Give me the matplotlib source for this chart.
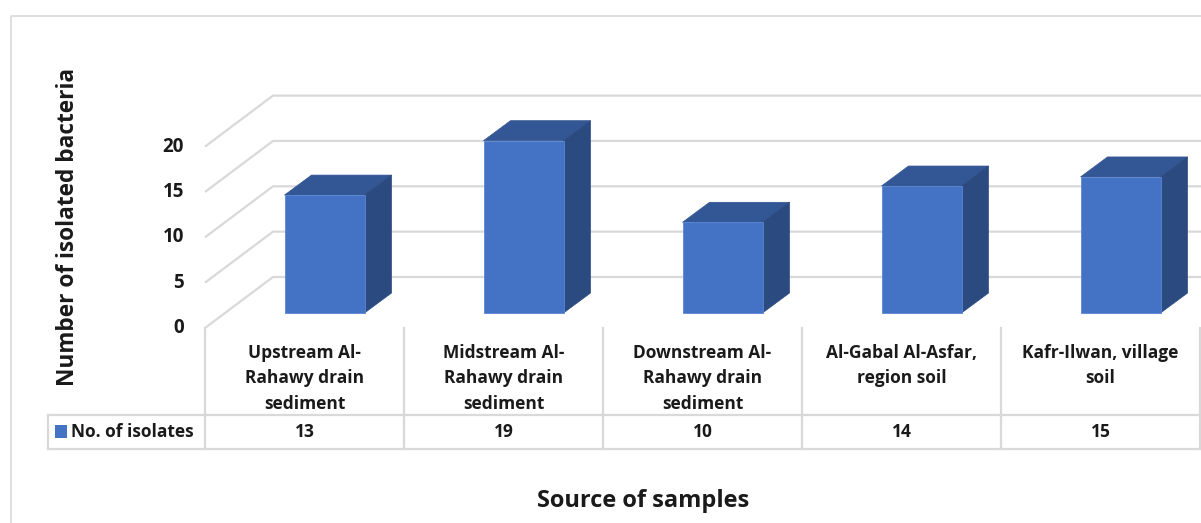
import numpy as np
import matplotlib.pyplot as plt
from matplotlib.patches import Polygon, Rectangle

# data
categories = ["Upstream Al-\nRahawy drain\nsediment",
              "Midstream Al-\nRahawy drain\nsediment",
              "Downstream Al-\nRahawy drain\nsediment",
              "Al-Gabal Al-Asfar,\nregion soil",
              "Kafr-Ilwan, village\nsoil"]
isolates = [13, 19, 10, 14, 15]
series_name = "No. of isolates"
y_ticks = [0, 5, 10, 15, 20]
y_title = "Number of isolated bacteria"
x_title = "Source of samples"

front_c = '#4472C4'
top_c = '#335694'
side_c = '#2B4A80'
grid_c = '#d9d9d9'
FONT = ['Open Sans', 'DejaVu Sans']

# layout (pixels)
W, H = 1201, 523
col_w = 199.0        # width of one category column
x_left = 205.0       # left edge of the first column
base_px = 313.0      # bar base on the front plane
unit_px = 9.07       # pixels per count

def X(px):
    return (px - x_left) / col_w - 0.5

def Y(py):
    return (base_px - py) / unit_px

def dX(px):
    return px / col_w

def dY(py):
    return py / unit_px

fig = plt.figure(figsize=(W / 100, H / 100), dpi=100)
ax = fig.add_axes([0, 0, 1, 1])
ax.set_xlim(X(0), X(W))
ax.set_ylim(Y(H), Y(0))
ax.axis('off')

# chart frame
ax.plot([X(10.5), X(10.5), X(W + 5)], [Y(H + 5), Y(15.5), Y(15.5)],
        color=grid_c, lw=1.2, zorder=1)

# walls / gridlines (oblique projection)
floor_front = -dY(15)
wall_dx, wall_dy = dX(68), dY(51)
for g in y_ticks:
    yf = g + floor_front
    ax.plot([-0.5, -0.5 + wall_dx, X(W + 5)], [yf, yf + wall_dy, yf + wall_dy],
            color=grid_c, lw=1.6, zorder=2, solid_capstyle='butt')
    ax.text(X(184), yf, str(g), ha='right', va='center', fontsize=13.5,
            fontweight='bold', family=FONT, color='#1a1a1a')

# bars
x = np.arange(len(isolates))
bw = 80 / col_w
shift = 20 / col_w
ddx, ddy = dX(27), dY(20)
ax.bar(x + shift, isolates, width=bw, color=front_c, zorder=5,
       edgecolor='#5a86d2', linewidth=0.6)
for xi, v in zip(x + shift, isolates):
    l, r = xi - bw / 2, xi + bw / 2
    ax.add_patch(Polygon([(l, v), (r, v), (r + ddx, v + ddy), (l + ddx, v + ddy)],
                         closed=True, facecolor=top_c, edgecolor=top_c, lw=0.5, zorder=4))
    ax.add_patch(Polygon([(r, 0), (r + ddx, ddy), (r + ddx, v + ddy), (r, v)],
                         closed=True, facecolor=side_c, edgecolor=side_c, lw=0.5, zorder=4))

# data table
row_top, row_mid, row_bot = Y(328), Y(415), Y(448.5)
legend_left = X(48)
for k in range(len(categories) + 1):
    ax.plot([k - 0.5, k - 0.5], [row_top, row_bot], color=grid_c, lw=1.6, zorder=2)
ax.plot([legend_left, legend_left], [row_mid, row_bot], color=grid_c, lw=1.6, zorder=2)
for yy in (row_mid, row_bot):
    ax.plot([legend_left, len(categories) - 0.5], [yy, yy], color=grid_c, lw=1.6, zorder=2)

for i, (cat, v) in enumerate(zip(categories, isolates)):
    ax.text(i, Y(343.5), cat, ha='center', va='top', fontsize=12.5, fontweight='bold',
            family=FONT, linespacing=1.56, color='#1a1a1a')
    ax.text(i, Y(432), str(v), ha='center', va='center', fontsize=12.5,
            fontweight='bold', family=FONT, color='#1a1a1a')

ax.add_patch(Rectangle((X(55), Y(437.5)), dX(12), dY(12.5), facecolor=front_c,
                       edgecolor='none', zorder=3))
ax.text(X(71), Y(432), series_name, ha='left', va='center', fontsize=12.5,
        fontweight='bold', family=FONT, color='#1a1a1a')

# axis titles
ax.text(X(68), Y(227), y_title, rotation=90, ha='center', va='center',
        fontsize=16.3, fontweight='bold', family=FONT, color='#1a1a1a')
ax.text(X(643), Y(501), x_title, ha='center', va='center', fontsize=17,
        fontweight='bold', family=FONT, color='#1a1a1a')

fig.savefig('out.png', dpi=100)
